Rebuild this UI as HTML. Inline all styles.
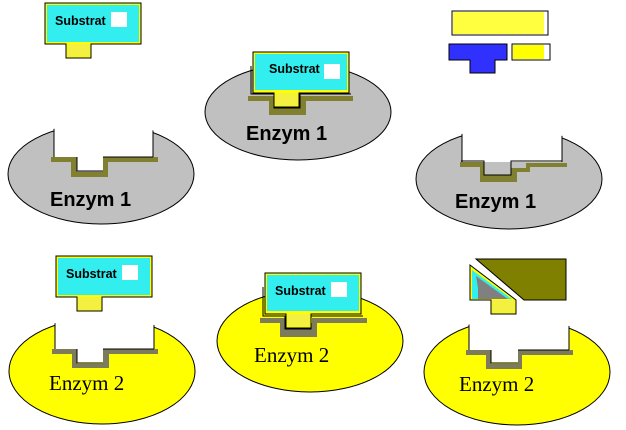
<!DOCTYPE html>
<html><head><meta charset="utf-8"><style>
html,body{margin:0;padding:0;background:#fff;}
svg{display:block;}
.sb{font-family:"Liberation Sans",sans-serif;font-weight:bold;font-size:12.5px;}
.e1{font-family:"Liberation Sans",sans-serif;font-weight:bold;font-size:20px;}
.e2{font-family:"Liberation Serif",serif;font-size:21px;}
</style></head><body>
<svg width="626" height="430" viewBox="0 0 626 430" xmlns="http://www.w3.org/2000/svg">
<defs>
<clipPath id="c1"><ellipse cx="101" cy="174" rx="95" ry="52"/></clipPath>
<clipPath id="c3"><ellipse cx="509" cy="179" rx="95" ry="52"/></clipPath>
<clipPath id="c4"><ellipse cx="102" cy="371" rx="95" ry="55"/></clipPath>
<clipPath id="c6"><ellipse cx="517" cy="372" rx="95" ry="55"/></clipPath>
</defs>

<!-- Panel 1 top-left -->
<path d="M45,3H141V44H91V58H66V44H45Z" fill="#ffff00" stroke="#000"/>
<rect x="47" y="5" width="92" height="37" fill="#33eeee"/>
<rect x="67" y="44" width="23" height="13" fill="#f4f040"/>
<rect x="111" y="12" width="16" height="15" fill="#fff"/>
<text x="55" y="25" class="sb">Substrat</text>
<ellipse cx="101" cy="174" rx="93" ry="50" fill="#c0c0c0" stroke="#000"/>
<rect x="54.5" y="115" width="98" height="42" fill="#fff" clip-path="url(#c1)"/>
<path d="M54,115V157M153,115V157" stroke="#000" clip-path="url(#c1)"/>
<path d="M51,157H77V172H103V157H158V162H108V177H71V162H51Z" fill="#808030"/>
<rect x="77" y="157" width="26" height="14" fill="#fff"/>
<path d="M77,157V171H103M103,157H153" stroke="#000" fill="none"/>
<text x="50" y="206" class="e1">Enzym 1</text>

<!-- Panel 2 top-middle -->
<ellipse cx="298" cy="112" rx="93" ry="48" fill="#c0c0c0" stroke="#000"/>
<path d="M248,96H274V101H300V96H353V101H306V115H269V101H248Z" fill="#808030"/>
<path d="M251,66V94H274V108H300V94H351" stroke="#000" stroke-width="1" fill="none"/>
<path d="M253,52H349V93H299V107H274V93H253Z" fill="#ffff00" stroke="#000"/>
<rect x="255" y="54" width="92" height="36" fill="#33eeee"/>
<rect x="275" y="93" width="23" height="13" fill="#f4f040"/>
<rect x="324" y="64" width="16" height="15" fill="#fff"/>
<text x="269" y="73" class="sb">Substrat</text>
<text x="246" y="140" class="e1">Enzym 1</text>

<!-- Panel 3 top-right -->
<rect x="452" y="11" width="96" height="24" fill="#fff" stroke="#000"/>
<rect x="453" y="12" width="91" height="22" fill="#ffff40"/>
<path d="M449,44H507V60H495V73H470V60H449Z" fill="#3030ff" stroke="#000"/>
<rect x="512" y="44" width="38" height="16" fill="#fff" stroke="#000"/>
<rect x="513" y="45" width="31" height="14" fill="#ffff00"/>
<ellipse cx="509" cy="179" rx="93" ry="50" fill="#c0c0c0" stroke="#000"/>
<rect x="462.5" y="120" width="99" height="42" fill="#fff" clip-path="url(#c3)"/>
<path d="M462,120V162M562,120V162" stroke="#000" clip-path="url(#c3)"/>
<path d="M460,162H484V175H511V168H526V163H567V167H530V172H517V182H480V167H460Z" fill="#808030"/>
<path d="M461,161H484V175H511V161H562" stroke="#000" fill="none"/>
<text x="455" y="208" class="e1">Enzym 1</text>

<!-- Panel 4 bottom-left -->
<path d="M56,256H152V297H102V311H77V297H56Z" fill="#ffff00" stroke="#000"/>
<rect x="58" y="258" width="92" height="37" fill="#33eeee"/>
<rect x="78" y="297" width="23" height="13" fill="#f4f040"/>
<rect x="122" y="265" width="16" height="15" fill="#fff"/>
<text x="66" y="278" class="sb">Substrat</text>
<ellipse cx="102" cy="371" rx="93" ry="53" fill="#ffff00" stroke="#000"/>
<rect x="55.5" y="312" width="98" height="37" fill="#fff" clip-path="url(#c4)"/>
<path d="M55,312V349M154,312V349" stroke="#000" clip-path="url(#c4)"/>
<path d="M52,349H77V364H103V349H158V354H109V368H72V354H52Z" fill="#7c7c5c"/>
<rect x="77" y="349" width="26" height="14" fill="#fff"/>
<path d="M77,349V363H103M103,349H154" stroke="#000" fill="none"/>
<text x="49" y="390" class="e2">Enzym 2</text>

<!-- Panel 5 bottom-middle -->
<ellipse cx="310" cy="341" rx="93" ry="51" fill="#ffff00" stroke="#000"/>
<path d="M260,318H285V323H312V318H367V323H317V337H280V323H260Z" fill="#7c7c5c"/>
<path d="M263,287V316H285V329H311V316H363" stroke="#000" fill="none"/>
<path d="M265,273H361V314H311V328H286V314H265Z" fill="#ffff00" stroke="#000"/>
<rect x="267" y="275" width="92" height="36" fill="#33eeee"/>
<rect x="287" y="314" width="23" height="13" fill="#f4f040"/>
<rect x="331" y="282" width="16" height="15" fill="#fff"/>
<text x="275" y="295" class="sb">Substrat</text>
<text x="254" y="362" class="e2">Enzym 2</text>

<!-- Panel 6 bottom-right -->
<path d="M470,265L516,300V314H491V300H470Z" fill="#ffff00" stroke="#000"/>
<path d="M472,270L512,299H472Z" fill="#33eeee"/>
<path d="M476,276L508,299H478V288Z" fill="#808080"/>
<path d="M476,259H566V300H524Z" fill="#808000" stroke="#000"/>
<rect x="492" y="300" width="23" height="13" fill="#f4f040"/>
<ellipse cx="517" cy="372" rx="93" ry="53" fill="#ffff00" stroke="#000"/>
<rect x="469.5" y="312" width="99" height="38" fill="#fff" clip-path="url(#c6)"/>
<path d="M469,312V350M569,312V350" stroke="#000" clip-path="url(#c6)"/>
<path d="M466,350H491V364H518V350H573V355H522V369H486V355H466Z" fill="#7c7c5c"/>
<rect x="491" y="350" width="27" height="13" fill="#fff"/>
<path d="M491,350V363H518M518,350H569" stroke="#000" fill="none"/>
<text x="459" y="391" class="e2">Enzym 2</text>
</svg>
</body></html>
